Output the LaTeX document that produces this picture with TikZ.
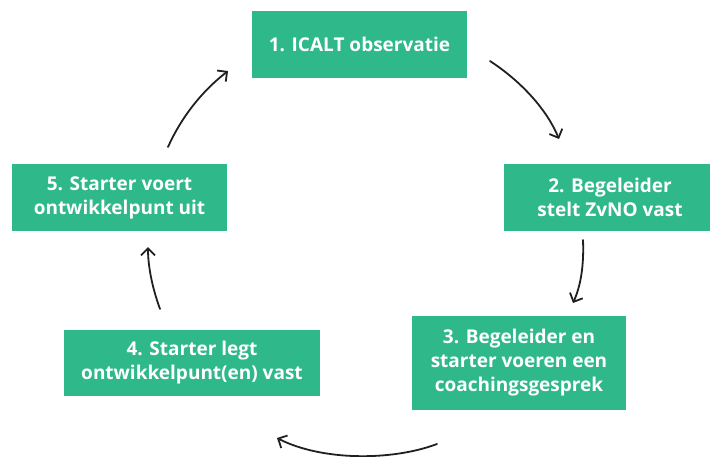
\documentclass[tikz,border=0pt]{standalone}
\usepackage{fontspec}
\setmainfont{Open Sans}
\usetikzlibrary{arrows.meta}
\definecolor{stepgreen}{HTML}{2FB98A}
\definecolor{inkline}{HTML}{231F20}
\begin{document}
\begin{tikzpicture}[x=1pt,y=-1pt,
  stepbox/.style={fill=stepgreen, text=white, inner sep=0pt, align=center,
    font=\fontsize{19}{24}\selectfont\bfseries},
  cyclearrow/.style={draw=inkline, line width=1.8pt, line cap=round,
    -{Straight Barb[length=7pt,width=14pt,line width=1.8pt]}}]
\useasboundingbox (0,0) rectangle (710,456);
\clip (0,0) rectangle (710,456);

% process steps
\node[stepbox, minimum width=215pt, minimum height=67pt] (s1) at (359.5,44.5)
  {1. ICALT observatie};
\node[stepbox, minimum width=212pt, minimum height=67pt] (s2) at (610,197.5)
  {2. Begeleider\\stelt ZvNO vast};
\node[stepbox, minimum width=214pt, minimum height=94pt] (s3) at (519,363)
  {3. Begeleider en\\starter voeren een\\coachingsgesprek};
\node[stepbox, minimum width=256pt, minimum height=66pt] (s4) at (192,363)
  {4. Starter legt\\ontwikkelpunt(en) vast};
\node[stepbox, minimum width=215pt, minimum height=67pt] (s5) at (119.5,197.5)
  {5. Starter voert\\ontwikkelpunt uit};

% arrow end points
\coordinate (a12) at (490,61);  \coordinate (b12) at (559,139);
\coordinate (a23) at (583,240); \coordinate (b23) at (573,303);
\coordinate (a34) at (437,444); \coordinate (b34) at (277,438);
\coordinate (a45) at (160,309); \coordinate (b45) at (148,247);
\coordinate (a51) at (168,147); \coordinate (b51) at (228,71);

% cycle arrows
\draw[cyclearrow] (a12) .. controls (522,82) and (547,110) .. (b12);
\draw[cyclearrow] (a23) .. controls (584,265) and (581,285) .. (b23);
\draw[cyclearrow] (a34) .. controls (392,461) and (322,461) .. (b34);
\draw[cyclearrow] (a45) .. controls (152,287) and (148,266) .. (b45);
\draw[cyclearrow] (a51) .. controls (181,118) and (201,92) .. (b51);
\end{tikzpicture}
\end{document}
